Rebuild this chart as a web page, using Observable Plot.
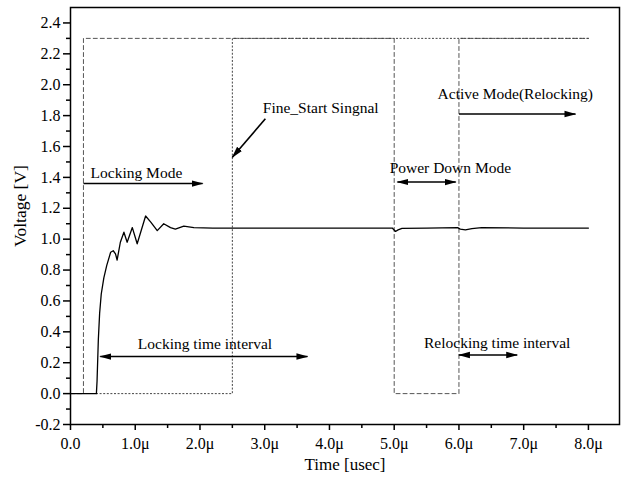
<!DOCTYPE html>
<html><head><meta charset="utf-8">
<script src="https://cdn.jsdelivr.net/npm/d3@7"></script>
<script src="https://cdn.jsdelivr.net/npm/@observablehq/plot@0.6"></script>
<style>body{margin:0;background:#fff} svg{display:block}</style>
</head><body><div id="chart"></div>
<script>
// Voltage waveform (time in microseconds, volts)
const timeUs  = [0, 0.40, 0.41, 0.43, 0.45, 0.475, 0.515, 0.56, 0.62, 0.66, 0.695, 0.72, 0.77, 0.825, 0.875, 0.955, 1.03, 1.16, 1.24, 1.34, 1.44, 1.545, 1.62, 1.75, 1.905, 2.2, 3.0, 4.0, 4.97, 5.02, 5.06, 5.12, 5.5, 5.98, 6.02, 6.1, 6.2, 6.35, 7.0, 8.0];
const voltage = [0, 0,    0.08, 0.35, 0.52, 0.645, 0.75, 0.83, 0.915, 0.925, 0.905, 0.865, 0.98, 1.045, 0.98, 1.075, 0.97, 1.15, 1.11, 1.055, 1.10, 1.075, 1.065, 1.085, 1.075, 1.072, 1.072, 1.072, 1.072, 1.05, 1.06, 1.07, 1.072, 1.075, 1.065, 1.06, 1.068, 1.075, 1.072, 1.072];

// Power-enable signal (dashed)
const powerT = [0, 0.2, 0.2, 5.0, 5.0, 6.0, 6.0, 8.0];
const powerV = [0, 0, 2.3, 2.3, 0, 0, 2.3, 2.3];

// Fine_Start signal (dotted)
const fineT = [0.4, 2.5, 2.5, 8.0];
const fineV = [0, 0, 2.3, 2.3];

// Axis ticks
const xMajor = [0, 1, 2, 3, 4, 5, 6, 7, 8];
const xMinor = [0.5, 1.5, 2.5, 3.5, 4.5, 5.5, 6.5, 7.5];
const yMajor = [-0.2, 0, 0.2, 0.4, 0.6, 0.8, 1.0, 1.2, 1.4, 1.6, 1.8, 2.0, 2.2, 2.4];
const yMinor = [-0.1, 0.1, 0.3, 0.5, 0.7, 0.9, 1.1, 1.3, 1.5, 1.7, 1.9, 2.1, 2.3];

// Annotations
const noteText = ["Locking Mode", "Fine_Start Singnal", "Power Down Mode", "Active Mode(Relocking)", "Locking time interval", "Relocking time interval"];
const noteX = [0.31, 2.97, 4.93, 5.67, 1.04, 5.46];
const noteY = [1.43, 1.85, 1.46, 1.94, 0.32, 0.33];

// Arrows
const arrowX1 = [0.2, 5.05, 6.0, 0.46, 6.0, 3.01];
const arrowY1 = [1.36, 1.37, 1.81, 0.24, 0.25, 1.78];
const arrowX2 = [2.04, 5.95, 7.8, 3.66, 6.9, 2.5];
const arrowY2 = [1.36, 1.37, 1.81, 0.24, 0.25, 1.53];
const arrowBoth = [false, true, false, true, true, false];

const wave = timeUs.map((t, i) => ({t, v: voltage[i]}));
const power = powerT.map((t, i) => ({t, v: powerV[i]}));
const fine = fineT.map((t, i) => ({t, v: fineV[i]}));
const notes = noteText.map((s, i) => ({s, x: noteX[i], y: noteY[i]}));
const arrows = arrowX1.map((x1, i) => ({x1, y1: arrowY1[i], x2: arrowX2[i], y2: arrowY2[i], both: arrowBoth[i]}));

function head(color) {
  const m = d3.create("svg:marker")
    .attr("viewBox", "0 -5 12 10")
    .attr("refX", 11).attr("refY", 0)
    .attr("markerWidth", 12).attr("markerHeight", 10)
    .attr("markerUnits", "userSpaceOnUse")
    .attr("orient", "auto-start-reverse")
    .attr("fill", color).attr("stroke", "none");
  m.append("path").attr("d", "M0,-3.2L12,0L0,3.2Z");
  return m.node();
}

const font = "'Liberation Serif', 'DejaVu Serif', serif";
const xFmt = d => d === 0 ? "0.0" : d.toFixed(1) + "\u03bc";

const chart = Plot.plot({
  width: 622,
  height: 487,
  marginLeft: 70,
  marginRight: 3,
  marginTop: 7,
  marginBottom: 63,
  style: {fontFamily: font, fontSize: "16px", color: "black", background: "white"},
  x: {domain: [0, 8.48]},
  y: {domain: [-0.2, 2.5]},
  marks: [
    Plot.line(power, {x: "t", y: "v", stroke: "#555", strokeWidth: 1, strokeDasharray: "4,3"}),
    Plot.line(fine, {x: "t", y: "v", stroke: "#444", strokeWidth: 1, strokeDasharray: "1.2,2.4"}),
    Plot.line(wave, {x: "t", y: "v", stroke: "black", strokeWidth: 1.3}),
    Plot.link(arrows.filter(d => d.both), {x1: "x1", y1: "y1", x2: "x2", y2: "y2", stroke: "black", strokeWidth: 1.6, markerStart: head, markerEnd: head}),
    Plot.link(arrows.filter(d => !d.both), {x1: "x1", y1: "y1", x2: "x2", y2: "y2", stroke: "black", strokeWidth: 1.6, markerEnd: head}),
    Plot.text(notes, {x: "x", y: "y", text: "s", textAnchor: "start", fontSize: 15.5, fill: "black"}),
    Plot.axisX({ticks: xMajor, tickFormat: xFmt, tickSize: 6, tickPadding: 7, label: null, fontSize: 16, stroke: "black", strokeWidth: 1.5}),
    Plot.axisX({ticks: xMinor, tickFormat: () => "", tickSize: 4, label: null, stroke: "black", strokeWidth: 1.5}),
    Plot.axisY({ticks: yMajor, tickFormat: d => d.toFixed(1), tickSize: 7, tickPadding: 3, label: null, fontSize: 16, stroke: "black", strokeWidth: 1.5}),
    Plot.axisY({ticks: yMinor, tickFormat: () => "", tickSize: 4, label: null, stroke: "black", strokeWidth: 1.5}),
    Plot.frame({stroke: "black", strokeWidth: 1.5}),
    Plot.text(["Time [usec]"], {frameAnchor: "bottom", dy: 45, fontSize: 17, fill: "black"}),
    Plot.text(["Voltage [V]"], {frameAnchor: "left", dx: -50, dy: -10, rotate: -90, textAnchor: "middle", fontSize: 17.5, fill: "black"})
  ]
});
document.getElementById("chart").appendChild(chart);
</script>
</body></html>
